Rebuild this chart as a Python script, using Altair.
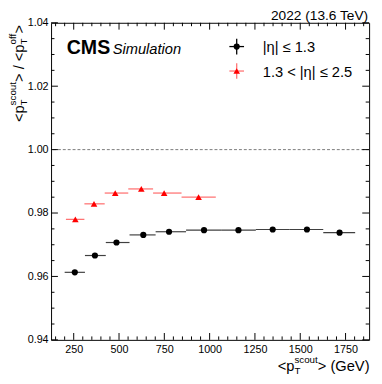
import altair as alt
import pandas as pd

FONT = "Liberation Sans"

# ---------------- data ----------------
central_pt = [256, 367, 486, 634, 776, 969, 1159, 1348, 1537, 1717]
central_lo = [200, 312, 427, 558, 702, 870, 1067, 1255, 1441, 1627]
central_hi = [312, 427, 558, 702, 870, 1067, 1255, 1441, 1627, 1803]
central_ratio = [0.9613, 0.9666, 0.9707, 0.9731, 0.9741, 0.9746, 0.9746, 0.9748, 0.9748, 0.9738]

forward_pt = [259, 362, 479, 623, 749, 939]
forward_lo = [207, 309, 421, 551, 688, 845]
forward_hi = [309, 421, 551, 688, 845, 1034]
forward_ratio = [0.9780, 0.9829, 0.9863, 0.9876, 0.9863, 0.9850]

legend_labels = ["|η| ≤ 1.3", "1.3 < |η| ≤ 2.5"]
legend_colors = ["black", "red"]

x_ticks = [250, 500, 750, 1000, 1250, 1500, 1750]
x_minor = [150, 200, 300, 350, 400, 450, 550, 600, 650, 700, 800, 850, 900, 950,
           1050, 1100, 1150, 1200, 1300, 1350, 1400, 1450, 1550, 1600, 1650, 1700,
           1800, 1850]
y_ticks = [0.94, 0.96, 0.98, 1.00, 1.02, 1.04]
y_minor = [0.945, 0.95, 0.955, 0.965, 0.97, 0.975, 0.985, 0.99, 0.995,
           1.005, 1.01, 1.015, 1.025, 1.03, 1.035]
reference = [1.0]
x_range = [125, 1880]
y_range = [0.94, 1.04]

# ---------------- layout ----------------
W, H = 325, 324
TMAJ, TMIN = 7, 3.5

xs = alt.Scale(domain=x_range, nice=False, zero=False)
ys = alt.Scale(domain=y_range, nice=False, zero=False)
x_axis = alt.Axis(values=x_ticks, format="d", ticks=False, tickSize=0, domain=False,
                  grid=False, labelFont=FONT, labelFontSize=11, labelColor="black",
                  labelPadding=3.5, labelFlush=False, labelOverlap=False, title=None)
y_axis = alt.Axis(values=y_ticks, format=".2f", ticks=False, tickSize=0, domain=False,
                  grid=False, labelFont=FONT, labelFontSize=11, labelColor="black",
                  labelPadding=3, labelFlush=False, labelOverlap=False, title=None)


def X(f):
    return alt.X(f, type="quantitative", scale=xs, axis=x_axis)


def Y(f):
    return alt.Y(f, type="quantitative", scale=ys, axis=y_axis)


layers = []

# reference dashed line at 1
layers.append(alt.Chart(pd.DataFrame({"v": reference})).mark_rule(
    color="#7a7a7a", strokeDash=[3, 2], strokeWidth=1).encode(y=Y("v")))

# ticks on all four sides (inward)
for vals, ln in ((x_ticks, TMAJ), (x_minor, TMIN)):
    d = pd.DataFrame({"v": vals})
    layers.append(alt.Chart(d).mark_rule(color="black", strokeWidth=1).encode(
        x=X("v"), y=alt.value(H), y2=alt.value(H - ln)))
    layers.append(alt.Chart(d).mark_rule(color="black", strokeWidth=1).encode(
        x=X("v"), y=alt.value(0), y2=alt.value(ln)))
for vals, ln in ((y_ticks, TMAJ), (y_minor, TMIN)):
    d = pd.DataFrame({"v": vals})
    layers.append(alt.Chart(d).mark_rule(color="black", strokeWidth=1).encode(
        y=Y("v"), x=alt.value(0), x2=alt.value(ln)))
    layers.append(alt.Chart(d).mark_rule(color="black", strokeWidth=1).encode(
        y=Y("v"), x=alt.value(W), x2=alt.value(W - ln)))

# data
dc = pd.DataFrame({"pt": central_pt, "lo": central_lo, "hi": central_hi, "r": central_ratio})
df = pd.DataFrame({"pt": forward_pt, "lo": forward_lo, "hi": forward_hi, "r": forward_ratio})

layers.append(alt.Chart(df).mark_rule(color="red", opacity=0.55, strokeWidth=1.3).encode(
    x=X("lo"), x2="hi:Q", y=Y("r")))
layers.append(alt.Chart(dc).mark_rule(color="black", opacity=0.75, strokeWidth=1.2).encode(
    x=X("lo"), x2="hi:Q", y=Y("r")))
layers.append(alt.Chart(df).mark_point(shape="triangle-up", filled=True, size=45,
                                       color="red", opacity=1).encode(x=X("pt"), y=Y("r")))
layers.append(alt.Chart(dc).mark_point(shape="circle", filled=True, size=40,
                                       color="black", opacity=1).encode(x=X("pt"), y=Y("r")))


# ---------------- texts ----------------
ARIAL = {'<': 584, '>': 584, 'p': 556, ' ': 278, '/': 278, 's': 500, 'c': 500, 'o': 556,
         'u': 556, 't': 278, 'f': 278, '(': 333, ')': 333, 'G': 778, 'e': 556, 'V': 667,
         'T': 611}


def tw(s, size):
    return sum(ARIAL[c] for c in s) * size / 1000.0


def text(t, x, y, size, align="left", **kw):
    return alt.Chart(pd.DataFrame({"t": [t]})).mark_text(
        align=align, baseline="alphabetic", font=FONT, fontSize=size,
        color="black", **kw).encode(x=alt.value(x), y=alt.value(y), text="t:N")


BIG, SMALL, SUP, SUB = 15, 10, 8, 3

# x title: <p_T^scout> (GeV), right aligned with the frame
xt_total = tw("<p", BIG) + tw("scout", SMALL) + tw("> (GeV)", BIG)
px = W + 0.5 - xt_total
by = 356
layers.append(text("<p", px, by, BIG))
px += tw("<p", BIG)
layers.append(text("T", px, by + SUB, SMALL))
layers.append(text("scout", px, by - SUP, SMALL))
px += tw("scout", SMALL)
layers.append(text("> (GeV)", px, by, BIG))

# y title: <p_T^scout> / <p_T^off>, rotated, ending near the top
bx = -28
py = 101.5
layers.append(text("<p", bx, py, BIG, angle=270))
py -= tw("<p", BIG)
layers.append(text("T", bx + SUB, py, SMALL, angle=270))
layers.append(text("scout", bx - SUP, py, SMALL, angle=270))
py -= tw("scout", SMALL)
layers.append(text("> / <p", bx, py, BIG, angle=270))
py -= tw("> / <p", BIG)
layers.append(text("T", bx + SUB, py, SMALL, angle=270))
layers.append(text("off", bx - SUP, py, SMALL, angle=270))
py -= tw("off", SMALL)
layers.append(text(">", bx, py, BIG, angle=270))

# CMS labels
layers.append(text("CMS", 16, 31.7, 20, fontWeight="bold"))
layers.append(text("Simulation", 63, 31.7, 15, fontStyle="italic"))
layers.append(text("2022 (13.6 TeV)", W - 1, -3, 14, align="right"))

# legend
leg_y = [24.3, 49.3]
leg_x = 189.7
for lab, col, ly, shp in zip(legend_labels, legend_colors, leg_y,
                             ["circle", "triangle-up"]):
    one = pd.DataFrame({"t": [lab]})
    op = 0.55 if col == "red" else 1
    layers.append(alt.Chart(one).mark_rule(color=col, opacity=op, strokeWidth=1.3).encode(
        x=alt.value(leg_x - 7.5), x2=alt.value(leg_x + 7.5), y=alt.value(ly)))
    layers.append(alt.Chart(one).mark_rule(color=col, opacity=op, strokeWidth=1.3).encode(
        y=alt.value(ly - 8), y2=alt.value(ly + 8), x=alt.value(leg_x)))
    layers.append(alt.Chart(one).mark_point(shape=shp, filled=True, opacity=1,
                                            size=45 if col == "red" else 40, color=col).encode(
        x=alt.value(leg_x), y=alt.value(ly)))
    layers.append(alt.Chart(one).mark_text(
        align="left", baseline="alphabetic", font=FONT, fontSize=15, color="black").encode(
        x=alt.value(216.3), y=alt.value(ly + 5.8), text="t:N"))

chart = alt.layer(*layers).properties(
    width=W, height=H,
    autosize=alt.AutoSizeParams(type="none"),
    padding={"left": 44, "top": 11, "right": 5, "bottom": 41},
).configure_view(stroke="black", strokeWidth=1)

chart.save("out.html", embed_options={"renderer": "svg", "actions": False})
